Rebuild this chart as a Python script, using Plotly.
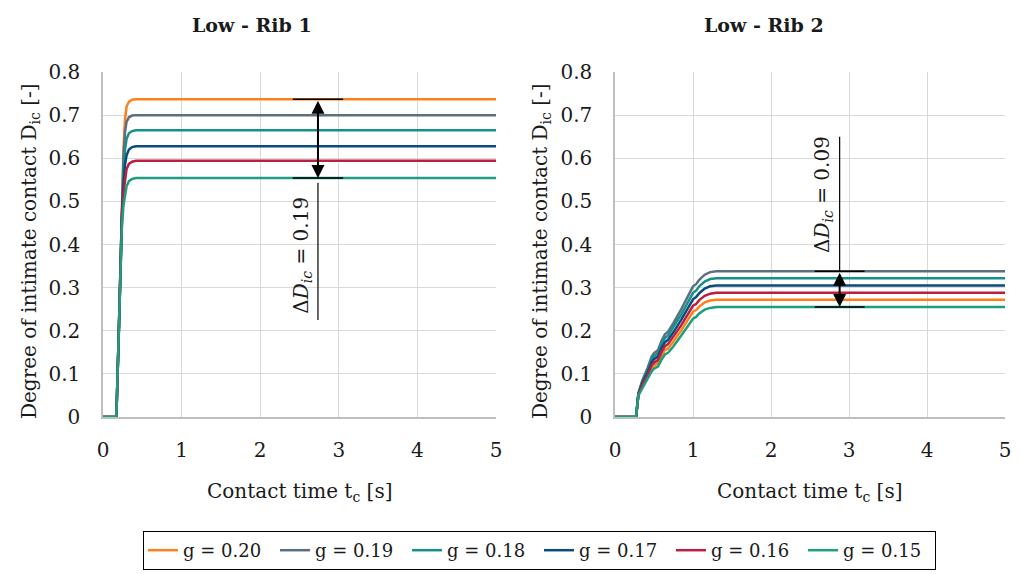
import plotly.graph_objects as go

# ---------------- data ----------------
labels = ["g = 0.20", "g = 0.19", "g = 0.18", "g = 0.17", "g = 0.16", "g = 0.15"]
colors = ["#FF7F1A", "#5C6F7F", "#16908B", "#0A4B7E", "#B81F40", "#1C9E80"]

# Low - Rib 1
t1 = [0, 0.17, 0.20, 0.22, 0.24, 0.26, 0.28, 0.30, 0.33, 0.37, 0.42, 0.50, 5.0]
rib1 = {
    "g = 0.20": [0, 0, 0.19, 0.34, 0.49, 0.62, 0.690, 0.720, 0.731, 0.736, 0.737, 0.737, 0.737],
    "g = 0.19": [0, 0, 0.19, 0.34, 0.49, 0.60, 0.660, 0.685, 0.695, 0.699, 0.700, 0.700, 0.700],
    "g = 0.18": [0, 0, 0.19, 0.34, 0.48, 0.57, 0.620, 0.645, 0.658, 0.663, 0.665, 0.665, 0.665],
    "g = 0.17": [0, 0, 0.19, 0.34, 0.47, 0.54, 0.585, 0.607, 0.620, 0.626, 0.628, 0.628, 0.628],
    "g = 0.16": [0, 0, 0.19, 0.33, 0.46, 0.52, 0.555, 0.575, 0.587, 0.592, 0.594, 0.594, 0.594],
    "g = 0.15": [0, 0, 0.19, 0.33, 0.44, 0.49, 0.515, 0.535, 0.547, 0.552, 0.554, 0.554, 0.554],
}

# Low - Rib 2
t2 = [0, 0.27, 0.30, 0.35, 0.42, 0.47, 0.50, 0.55, 0.60, 0.64, 0.68, 0.75, 0.85,
      0.95, 1.00, 1.04, 1.08, 1.15, 1.22, 1.30, 5.0]
rib2 = {
    "g = 0.20": [0, 0, 0.051, 0.070, 0.093, 0.113, 0.119, 0.125, 0.143, 0.155, 0.159, 0.175,
                 0.201, 0.229, 0.244, 0.248, 0.256, 0.266, 0.270, 0.272, 0.272],
    "g = 0.19": [0, 0, 0.055, 0.085, 0.115, 0.140, 0.148, 0.155, 0.178, 0.192, 0.198, 0.218,
                 0.250, 0.285, 0.303, 0.308, 0.318, 0.330, 0.336, 0.338, 0.338],
    "g = 0.18": [0, 0, 0.054, 0.082, 0.110, 0.134, 0.141, 0.148, 0.170, 0.183, 0.189, 0.208,
                 0.238, 0.271, 0.288, 0.293, 0.303, 0.314, 0.320, 0.322, 0.322],
    "g = 0.17": [0, 0, 0.053, 0.078, 0.104, 0.127, 0.134, 0.140, 0.161, 0.173, 0.179, 0.197,
                 0.226, 0.257, 0.273, 0.278, 0.287, 0.298, 0.303, 0.305, 0.305],
    "g = 0.16": [0, 0, 0.052, 0.074, 0.098, 0.120, 0.126, 0.132, 0.152, 0.164, 0.169, 0.186,
                 0.213, 0.243, 0.258, 0.262, 0.271, 0.281, 0.286, 0.288, 0.288],
    "g = 0.15": [0, 0, 0.050, 0.066, 0.087, 0.106, 0.112, 0.117, 0.134, 0.145, 0.149, 0.164,
                 0.189, 0.215, 0.228, 0.232, 0.240, 0.249, 0.253, 0.255, 0.255],
}

x_ticks = [0, 1, 2, 3, 4, 5]
y_ticks = [0, 0.1, 0.2, 0.3, 0.4, 0.5, 0.6, 0.7, 0.8]
y_ticktext = ["0", "0.1", "0.2", "0.3", "0.4", "0.5", "0.6", "0.7", "0.8"]

# annotation values: (t position, top, bottom, label)
delta1 = (2.735, 0.737, 0.554, "0.19")
delta2 = (2.88, 0.338, 0.255, "0.09")

# ---------------- figure ----------------
OFF = 8                     # page body margin
W, H = 1022 - OFF, 574 - OFF
FONT = "DejaVu Serif"
TXT = "#1a1a1a"
fig = go.Figure()

for lab, col in zip(labels, colors):
    fig.add_trace(go.Scatter(x=t1, y=rib1[lab], mode="lines", name=lab,
                             line=dict(color=col, width=2.5), xaxis="x", yaxis="y",
                             legendgroup=lab, showlegend=True))
for lab, col in zip(labels, colors):
    fig.add_trace(go.Scatter(x=t2, y=rib2[lab], mode="lines", name=lab,
                             line=dict(color=col, width=2.5), xaxis="x2", yaxis="y2",
                             legendgroup=lab, showlegend=False))

def px_x(p):
    return (p - OFF) / W

def px_y(p):
    return 1 - (p - OFF) / H

ax_common = dict(showgrid=True, gridcolor="#D9D9D9", gridwidth=1.4, zeroline=False,
                 showline=True, linecolor="#BFBFBF", linewidth=1.5, ticks="",
                 tickfont=dict(family=FONT, size=20, color=TXT), automargin=False)

fig.update_layout(
    width=W, height=H,
    margin=dict(l=0, r=0, t=0, b=0),
    paper_bgcolor="white", plot_bgcolor="white",
    font=dict(family=FONT, size=19, color=TXT),
    xaxis=dict(domain=[px_x(103), px_x(496)], range=[0, 5], tickvals=x_ticks,
               anchor="y", ticklabelstandoff=14, **ax_common),
    yaxis=dict(domain=[px_y(417), px_y(72)], range=[0, 0.8], tickvals=y_ticks,
               ticktext=y_ticktext, anchor="x", ticklabelstandoff=17, **ax_common),
    xaxis2=dict(domain=[px_x(615), px_x(1005)], range=[0, 5], tickvals=x_ticks,
                anchor="y2", ticklabelstandoff=14, **ax_common),
    yaxis2=dict(domain=[px_y(417), px_y(72)], range=[0, 0.8], tickvals=y_ticks,
                ticktext=y_ticktext, anchor="x2", ticklabelstandoff=17, **ax_common),
    legend=dict(orientation="h", x=px_x(143), xanchor="left", y=px_y(531), yanchor="top",
                bordercolor="#000", borderwidth=1, font=dict(family=FONT, size=18, color=TXT),
                entrywidth=87, entrywidthmode="pixels", tracegroupgap=0, itemwidth=30),
    showlegend=True,
)

ann = []
def paper_text(text, xp, yp, size, angle=0):
    ann.append(dict(text=text, x=px_x(xp), y=px_y(yp), xref="paper", yref="paper",
                    xanchor="center", yanchor="middle", showarrow=False, textangle=angle,
                    font=dict(family=FONT, size=size, color=TXT)))

paper_text("<b>Low - Rib 1</b>", 252, 25, 19)
paper_text("<b>Low - Rib 2</b>", 764, 25, 19)
paper_text("Degree of intimate contact D<sub>ic</sub> [-]", 30, 251, 20, -90)
paper_text("Degree of intimate contact D<sub>ic</sub> [-]", 541, 251, 20, -90)
paper_text("Contact time t<sub>c</sub> [s]", 300, 492, 20)
paper_text("Contact time t<sub>c</sub> [s]", 810, 492, 20)

shapes = []
for (tx, top, bot, val), xa, ya in ((delta1, "x", "y"), (delta2, "x2", "y2")):
    ann.append(dict(x=tx, y=bot, ax=tx, ay=top, xref=xa, yref=ya, axref=xa, ayref=ya,
                    text="", showarrow=True, arrowhead=2, startarrowhead=2, arrowside="end+start",
                    arrowsize=1.3, startarrowsize=1.3, arrowwidth=2, arrowcolor="#000",
                    standoff=0, startstandoff=0))
    for yv in (top, bot):
        shapes.append(dict(type="line", xref=xa, yref=ya, x0=tx - 0.32, x1=tx + 0.32,
                           y0=yv, y1=yv, line=dict(color="#000", width=1.5)))

# leader lines and rotated labels
shapes.append(dict(type="line", xref="x", yref="y", x0=delta1[0], x1=delta1[0],
                   y0=0.543, y1=0.225, line=dict(color="#000", width=1.2)))
ann.append(dict(text="Δ<i>D</i><sub><i>ic</i></sub> = " + delta1[3], x=2.53, y=0.376,
                xref="x", yref="y", xanchor="center", yanchor="middle",
                showarrow=False, textangle=-90, font=dict(family=FONT, size=20, color=TXT)))
shapes.append(dict(type="line", xref="x2", yref="y2", x0=delta2[0], x1=delta2[0],
                   y0=delta2[1], y1=0.650, line=dict(color="#000", width=1.2)))
ann.append(dict(text="Δ<i>D</i><sub><i>ic</i></sub> = " + delta2[3], x=2.667, y=0.515,
                xref="x2", yref="y2", xanchor="center", yanchor="middle",
                showarrow=False, textangle=-90, font=dict(family=FONT, size=20, color=TXT)))

fig.update_layout(annotations=ann, shapes=shapes)

fig.write_html("out.html")
